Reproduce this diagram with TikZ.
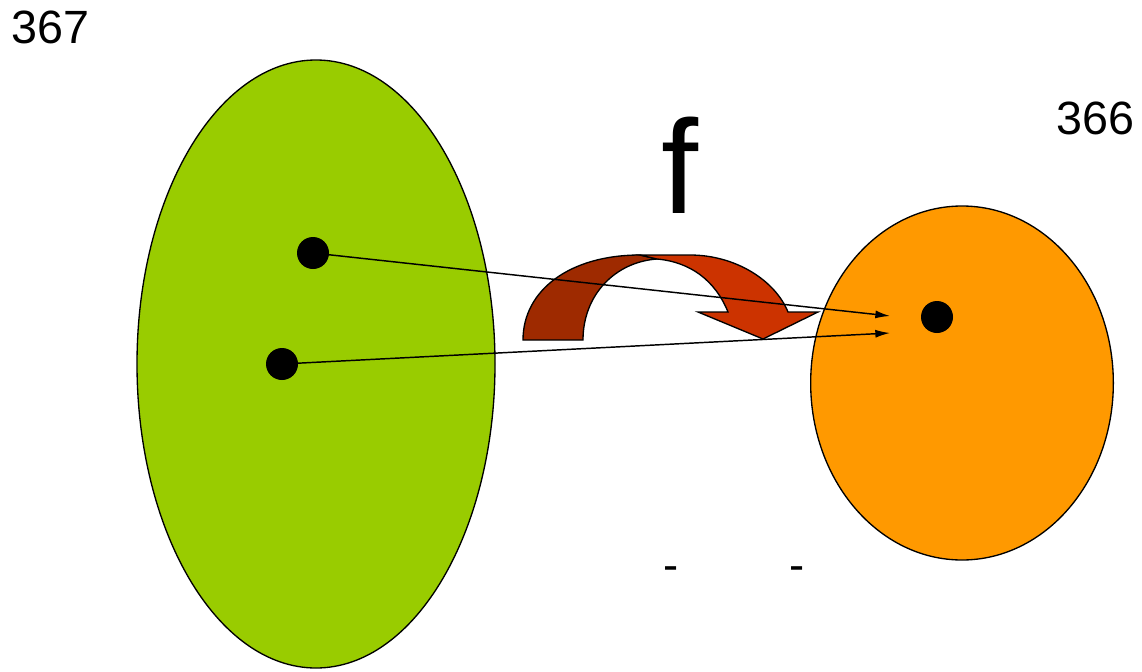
\documentclass[tikz,border=0pt]{standalone}
\usepackage{fontspec}
\setmainfont{Liberation Sans}
\usetikzlibrary{arrows.meta,shapes.geometric}
\definecolor{setgreen}{HTML}{99CC00}
\definecolor{setorange}{HTML}{FF9900}
\definecolor{arrdark}{HTML}{9E2A00}
\definecolor{arrlight}{HTML}{CC3300}
\begin{document}
\begin{tikzpicture}[x=0.75pt,y=-0.75pt,
  setshape/.style={ellipse,draw=black,line width=1pt,inner sep=0pt},
  dot/.style={circle,fill=black,inner sep=0pt,minimum size=24pt},
  maparrow/.style={draw=black,line width=1.1pt,-{Latex[length=11pt,width=6pt]}},
  lbl/.style={inner sep=0pt,anchor=base west}]
\useasboundingbox (0,0) rectangle (1142,671);
% sets
\node[setshape,fill=setgreen,minimum width=268.5pt,minimum height=456pt] (A) at (316,364) {};
\node[setshape,fill=setorange,minimum width=227pt,minimum height=265.5pt] (B) at (962,383) {};
% curved arrow
\fill[arrdark,draw=black,line width=1pt] (523,340) .. controls (523,290) and (570,255) .. (640,255) -- (657,259) .. controls (615,262) and (583,295) .. (583,340) -- cycle;
\fill[arrlight,draw=black,line width=1pt] (640,255) -- (690,255) .. controls (735,255) and (775,280) .. (788,312) -- (818,312) -- (763,339) -- (698,312) -- (728,312) .. controls (715,280) and (690,262) .. (657,259) -- cycle;
% points
\node[dot] (a1) at (313,253) {};
\node[dot] (a2) at (282,364) {};
\node[dot] (b1) at (937,317) {};
\coordinate (t1) at (890,316);
\coordinate (t2) at (890,333);
\draw[maparrow] (a1.center) -- (t1);
\draw[maparrow] (a2.center) -- (t2);
% labels
\node[lbl,font=\fontsize{35}{38}\selectfont] (l367) at (11,43) {367};
\node[lbl,font=\fontsize{35}{38}\selectfont] (l366) at (1056,134) {366};
\node[lbl,font=\fontsize{100}{104}\selectfont] (lf) at (661,213) {f};
\node[lbl,font=\fontsize{34}{38}\selectfont] (d1) at (663,580) {-};
\node[lbl,font=\fontsize{34}{38}\selectfont] (d2) at (789,580) {-};
\end{tikzpicture}
\end{document}
